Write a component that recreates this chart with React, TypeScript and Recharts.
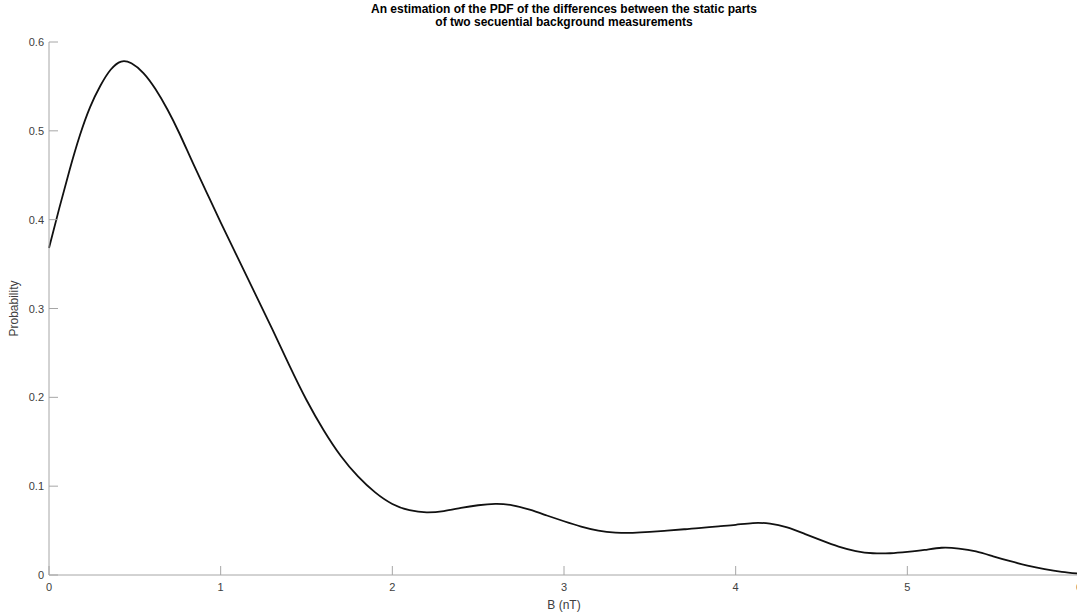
import * as React from "react";
import { LineChart, Line, XAxis, YAxis, Label } from "recharts";

const bValues = [
  0, 0.06, 0.12, 0.18, 0.24, 0.3, 0.36, 0.42, 0.48, 0.55, 0.62, 0.69, 0.76, 0.84, 0.92,
  1.0, 1.1, 1.2, 1.3, 1.4, 1.5, 1.6, 1.7, 1.8, 1.9, 2.0, 2.1, 2.2, 2.3, 2.4, 2.5, 2.6,
  2.7, 2.8, 2.9, 3.0, 3.1, 3.2, 3.3, 3.4, 3.5, 3.6, 3.7, 3.8, 3.9, 4.0, 4.1, 4.2, 4.3,
  4.4, 4.5, 4.6, 4.7, 4.8, 4.9, 5.0, 5.1, 5.2, 5.3, 5.4, 5.5, 5.6, 5.7, 5.8, 5.9, 6.0,
];
const probValues = [
  0.368, 0.413, 0.456, 0.495, 0.527, 0.551, 0.569, 0.578, 0.576, 0.565, 0.547, 0.524,
  0.497, 0.463, 0.43, 0.397, 0.357, 0.317, 0.277, 0.236, 0.197, 0.163, 0.134, 0.111,
  0.093, 0.08, 0.073, 0.0705, 0.072, 0.0755, 0.0785, 0.08, 0.0785, 0.0735, 0.067, 0.0605,
  0.0545, 0.05, 0.0478, 0.0475, 0.0485, 0.05, 0.0515, 0.053, 0.0548, 0.0565, 0.0585,
  0.0578, 0.0535, 0.0465, 0.039, 0.032, 0.027, 0.0245, 0.0245, 0.026, 0.0282, 0.0307,
  0.0298, 0.0265, 0.021, 0.0155, 0.0105, 0.0065, 0.0035, 0.0015,
];
const xTicks = [0, 1, 2, 3, 4, 5, 6];
const yTicks = [0, 0.1, 0.2, 0.3, 0.4, 0.5, 0.6];

const data = bValues.map((b, i) => ({ b, p: probValues[i] }));

const FONT = "'Liberation Sans', Arial, sans-serif";
const AXIS = "#a6a6a6";
const TXT = "#404040";

const BottomTick = (props: any) => {
  const { x, y, payload } = props;
  return (
    <g>
      <line x1={x} y1={y} x2={x} y2={y - 9} stroke={AXIS} />
      <text x={x} y={y + 16} textAnchor="middle" fontSize={11} fill={TXT} fontFamily={FONT}>
        {payload.value}
      </text>
    </g>
  );
};

const TopTick = (props: any) => {
  const { x, y } = props;
  return <line x1={x} y1={y} x2={x} y2={y + 9} stroke={AXIS} />;
};

const LeftTick = (props: any) => {
  const { x, y, payload } = props;
  return (
    <g>
      <line x1={x} y1={y} x2={x + 9} y2={y} stroke={AXIS} />
      <text x={x - 5} y={y + 4} textAnchor="end" fontSize={11} fill={TXT} fontFamily={FONT}>
        {payload.value}
      </text>
    </g>
  );
};

const RightTick = (props: any) => {
  const { x, y } = props;
  return <line x1={x} y1={y} x2={x - 9} y2={y} stroke={AXIS} />;
};

export default function App() {
  return (
    <div
      style={{
        position: "fixed",
        left: 0,
        top: 0,
        width: 1077,
        height: 612,
        overflow: "hidden",
        background: "#fff",
      }}
    >
      <div
        style={{
          position: "absolute",
          left: 49,
          width: 1030,
          top: 3,
          textAlign: "center",
          fontFamily: FONT,
          fontWeight: "bold",
          fontSize: 12,
          lineHeight: "13px",
          color: "#000",
        }}
      >
        An estimation of the PDF of the differences between the static parts
        <br />
        of two secuential background measurements
      </div>
      <LineChart
        width={1079}
        height={612}
        data={data}
        margin={{ top: 42, right: 0, bottom: 0, left: 0 }}
        style={{ position: "absolute", left: 0, top: 0 }}
      >
        <XAxis
          xAxisId="bottom"
          dataKey="b"
          type="number"
          domain={[0, 6]}
          ticks={xTicks}
          height={37}
          tickSize={0}
          tickMargin={0}
          tickLine={false}
          axisLine={{ stroke: AXIS }}
          tick={<BottomTick />}
          interval={0}
        >
          <Label
            value="B (nT)"
            position="insideBottom"
            offset={3}
            style={{ fontSize: 12, fill: TXT, fontFamily: FONT }}
          />
        </XAxis>
        <XAxis
          xAxisId="top"
          dataKey="b"
          type="number"
          orientation="top"
          domain={[0, 6]}
          ticks={xTicks}
          height={0}
          tickSize={0}
          tickMargin={0}
          tickLine={false}
          axisLine={{ stroke: AXIS }}
          tick={<TopTick />}
          interval={0}
        />
        <YAxis
          yAxisId="left"
          type="number"
          domain={[0, 0.6]}
          ticks={yTicks}
          width={49}
          tickSize={0}
          tickMargin={0}
          tickLine={false}
          axisLine={{ stroke: AXIS }}
          tick={<LeftTick />}
          interval={0}
        >
          <Label
            value="Probability"
            angle={-90}
            position="insideLeft"
            offset={0}
            dx={14}
            style={{ fontSize: 12, fill: TXT, fontFamily: FONT, textAnchor: "middle" }}
          />
        </YAxis>
        <YAxis
          yAxisId="right"
          type="number"
          orientation="right"
          domain={[0, 0.6]}
          ticks={yTicks}
          width={0}
          tickSize={0}
          tickMargin={0}
          tickLine={false}
          axisLine={{ stroke: AXIS }}
          tick={<RightTick />}
          interval={0}
        />
        <Line
          xAxisId="top"
          yAxisId="right"
          dataKey="p"
          stroke="none"
          dot={false}
          activeDot={false}
          isAnimationActive={false}
        />
        <Line
          xAxisId="bottom"
          yAxisId="left"
          type="natural"
          dataKey="p"
          stroke="#111"
          strokeWidth={1.8}
          dot={false}
          activeDot={false}
          isAnimationActive={false}
        />
      </LineChart>
    </div>
  );
}
